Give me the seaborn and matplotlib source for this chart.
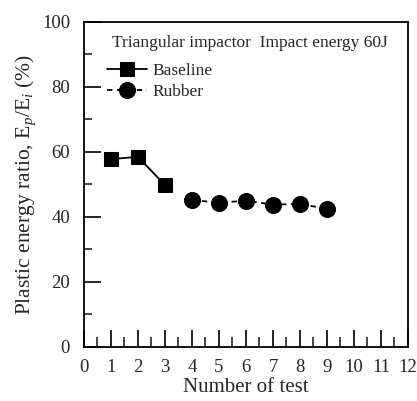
import pandas as pd
import matplotlib.pyplot as plt
import seaborn as sns

# data
baseline_test = [1, 2, 3]
baseline_ratio = [57.8, 58.5, 49.8]
rubber_test = [4, 5, 6, 7, 8, 9]
rubber_ratio = [45.2, 44.4, 45.0, 43.8, 44.0, 42.5]

df_base = pd.DataFrame({"test": baseline_test, "ratio": baseline_ratio})
df_rub = pd.DataFrame({"test": rubber_test, "ratio": rubber_ratio})

sns.set_style("ticks")
plt.rcParams["font.family"] = ["Liberation Serif", "DejaVu Serif"]
plt.rcParams["mathtext.fontset"] = "custom"
plt.rcParams["mathtext.rm"] = "Liberation Serif"
plt.rcParams["mathtext.it"] = "Liberation Serif:italic"

fig = plt.figure(figsize=(4.17, 4.01), dpi=100)
ax = fig.add_axes([0.2014, 0.1347, 0.777, 0.8106])

sns.lineplot(data=df_base, x="test", y="ratio", ax=ax, color="black",
             marker="s", markersize=10, markeredgecolor="black",
             linewidth=1.3, label="Baseline")
sns.lineplot(data=df_rub, x="test", y="ratio", ax=ax, color="black",
             marker="o", markersize=11.5, markeredgecolor="black",
             linewidth=1.3, linestyle=(0, (3, 2.5)), label="Rubber")

ax.set_xlim(0, 12)
ax.set_ylim(0, 100)
ax.set_xticks(range(0, 13))
ax.set_xticks([i + 0.5 for i in range(12)], minor=True)
ax.set_yticks(range(0, 101, 20))
ax.set_yticks(range(10, 100, 20), minor=True)

ax.tick_params(axis="both", which="major", direction="in", length=12,
               width=1.2, labelsize=13.5, color="black")
ax.tick_params(axis="x", which="major", pad=9)
ax.tick_params(axis="y", which="major", pad=10)
ax.tick_params(axis="x", which="minor", direction="in", length=7, width=1.2)
ax.tick_params(axis="y", which="minor", direction="in", length=6, width=1.2)

for s in ax.spines.values():
    s.set_linewidth(1.3)
    s.set_color("black")

ax.set_xlabel("Number of test", fontsize=15, labelpad=1)
ax.set_ylabel(r"Plastic energy ratio, E$_{\it p}$/E$_{\it i}$ (%)", fontsize=15.5, labelpad=3)

ax.text(0.086, 0.935, "Triangular impactor  Impact energy 60J",
        transform=ax.transAxes, fontsize=12.5, va="center", ha="left")
leg = ax.legend(loc="upper left", bbox_to_anchor=(0.035, 0.91), frameon=False,
                fontsize=12.5, handlelength=2.3, handletextpad=0.3,
                borderaxespad=0.3, labelspacing=0.25)

fig.savefig("out.png", dpi=100)
